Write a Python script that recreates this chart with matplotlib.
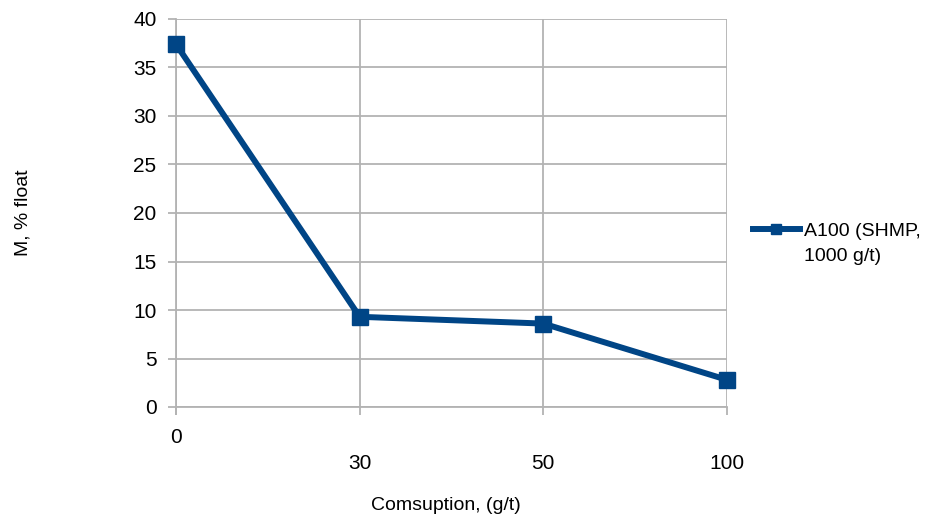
import matplotlib
matplotlib.use("Agg")
from matplotlib import pyplot as plt

plt.rcParams['font.family'] = ['Liberation Sans', 'DejaVu Sans']

consumption = ['0', '30', '50', '100']
m_float = [37.4, 9.3, 8.6, 2.8]
series_name = ['A100 (SHMP,', '1000 g/t)']

LINE_COLOR = '#004586'
GRID_COLOR = '#b3b3b3'
FS = 14
TICK_FS = 15

fig = plt.figure(figsize=(9.3, 5.18), dpi=100)
ax = fig.add_axes([176 / 930, 1 - 407 / 518, 551 / 930, 388 / 518])

pos = list(range(len(consumption)))
ax.plot(pos, m_float, color=LINE_COLOR, lw=4.3, marker='s', ms=12,
        label=series_name[0], zorder=3, clip_on=False)
# second legend line (wrapped label), no key
ax.plot([], [], color='none', label=series_name[1])

ax.set_xlim(0, len(consumption) - 1)
ax.set_ylim(0, 40)
ax.set_yticks(range(0, 41, 5))
ax.grid(True, color=GRID_COLOR, lw=1.3)
ax.set_axisbelow(True)

# first category label sits higher than the rest
ax.xaxis.remove_overlapping_locs = False
ax.set_xticks(pos, [''] + consumption[1:])
ax.set_xticks([pos[0]], [consumption[0]], minor=True)
ax.tick_params(axis='x', which='major', length=6, width=1.3, color=GRID_COLOR,
               pad=28, labelsize=TICK_FS)
ax.tick_params(axis='x', which='minor', length=6, width=1.3, color=GRID_COLOR,
               pad=9, labelsize=TICK_FS)
ax.tick_params(axis='y', length=6, width=1.3, color=GRID_COLOR, pad=8, labelsize=TICK_FS)

for side in ('top', 'right'):
    ax.spines[side].set_visible(False)
for side in ('left', 'bottom'):
    ax.spines[side].set_color(GRID_COLOR)
    ax.spines[side].set_linewidth(1.3)

ax.set_xlabel('Comsuption, (g/t)', fontsize=FS, labelpad=17)
ax.xaxis.label.set_x(0.489)
ax.set_ylabel('M, % float', fontsize=FS)
ax.yaxis.set_label_coords(-0.262, 0.5)

fig.legend(loc='upper left', bbox_to_anchor=(753 / 930, 1 - 222 / 518),
           frameon=False, fontsize=FS, handlelength=2.4, handletextpad=0.2,
           borderaxespad=0, borderpad=0, markerscale=0.6, labelspacing=0.4)

fig.savefig('out.png', dpi=100)
